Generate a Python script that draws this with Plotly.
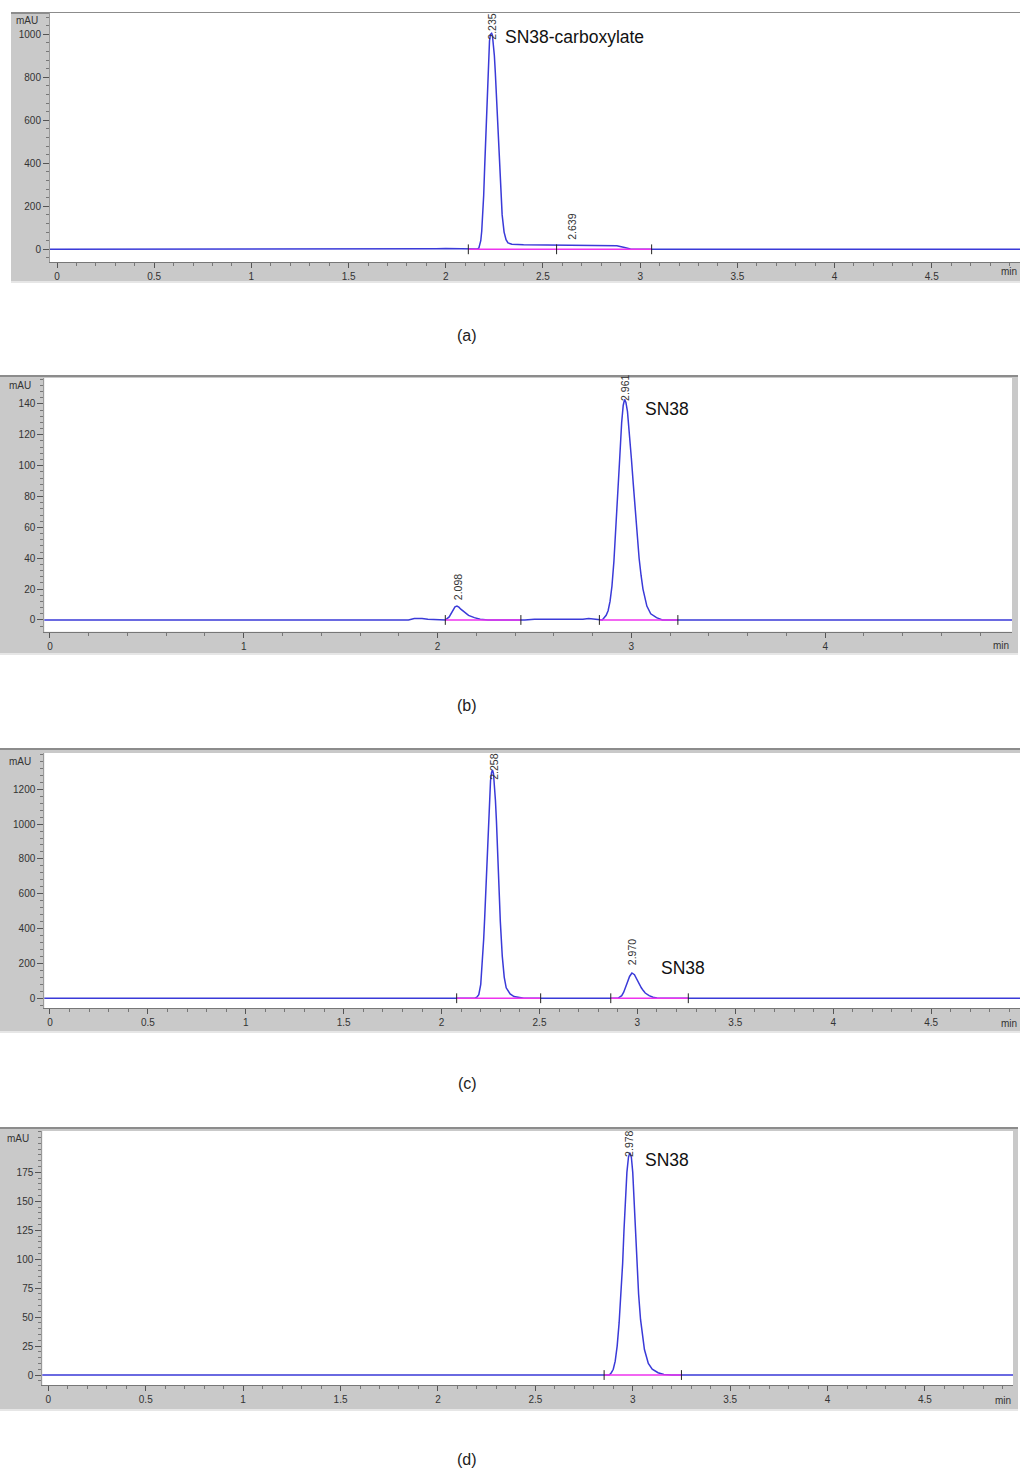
import plotly.graph_objects as go

W, H = 1020, 1471

# ---------------- data ----------------
# Panel (a)
a_time = [-0.05, 1.00, 1.90, 1.95, 2.00, 2.05, 2.10, 2.14, 2.16, 2.17, 2.175, 2.18, 2.185, 2.19, 2.195,
          2.20, 2.205, 2.21, 2.215, 2.22, 2.225, 2.23, 2.236, 2.24, 2.245, 2.25, 2.255, 2.26, 2.265,
          2.27, 2.275, 2.28, 2.285, 2.29, 2.30, 2.31, 2.32, 2.34, 2.40, 2.60, 2.80, 2.88,
          2.92, 2.95, 2.98, 4.00, 5.00]
a_signal = [0, 0, 0, 3, 4, 4, 4, 2, 1, 5, 18, 40, 85, 150, 250,
            380, 520, 660, 790, 900, 970, 1000, 1005, 995, 960, 900, 820, 720, 610,
            500, 395, 300, 220, 160, 80, 45, 30, 24, 21, 19, 18, 16,
            8, 2, 0, 0, 0]
a_base_start = [2.116]
a_base_end = [3.059]
a_events = [2.116, 2.570, 3.059]
a_peak_rt = ["2.235", "2.639"]
a_peak_pos = [2.236, 2.648]
a_peak_lab_y = [964, 34]
a_compound = ["SN38-carboxylate"]
a_compound_pos = [2.294]
a_compound_y = [987]
a_yticks = [0, 200, 400, 600, 800, 1000]
a_xticks = [0, 0.5, 1, 1.5, 2, 2.5, 3, 3.5, 4, 4.5]

# Panel (b)
b_time = [-0.05, 1.00, 1.85, 1.88, 1.92, 1.95, 2.00, 2.04, 2.06, 2.08, 2.09, 2.10, 2.11, 2.12, 2.14,
          2.16, 2.19, 2.22, 2.26, 2.45, 2.50, 2.75, 2.78, 2.82, 2.85, 2.87, 2.88, 2.89, 2.90, 2.91,
          2.92, 2.93, 2.94, 2.95, 2.958, 2.965, 2.972, 2.98, 2.99, 3.00, 3.01, 3.02, 3.03, 3.04,
          3.05, 3.06, 3.08, 3.10, 3.13, 3.16, 4.00, 5.00]
b_signal = [0, 0, 0, 1, 1, 0.5, 0, 0, 2, 7, 8.5, 9, 8.3, 7, 5,
            3, 1.5, 0.5, 0, 0, 0.5, 0.5, 1, 0.5, 0, 3, 6, 12, 22, 38,
            58, 80, 105, 128, 139, 143, 141, 135, 122, 105, 88, 70, 54, 40,
            29, 20, 9, 4, 1.5, 0, 0, 0]
b_base_start = [2.04, 2.835]
b_base_end = [2.43, 3.24]
b_events = [2.04, 2.43, 2.835, 3.24]
b_peak_rt = ["2.098", "2.961"]
b_peak_pos = [2.107, 2.967]
b_peak_lab_y = [11.7, 140.6]
b_compound = ["SN38"]
b_compound_pos = [3.06]
b_compound_y = [136.7]
b_yticks = [0, 20, 40, 60, 80, 100, 120, 140]
b_xticks = [0, 1, 2, 3, 4]

# Panel (c)
c_time = [-0.05, 1.00, 2.17, 2.18, 2.19, 2.20, 2.205, 2.21, 2.215, 2.22, 2.225, 2.23, 2.235, 2.24,
          2.245, 2.25, 2.255, 2.26, 2.265, 2.27, 2.275, 2.28, 2.285, 2.29, 2.295, 2.30, 2.31,
          2.32, 2.33, 2.35, 2.37, 2.40, 2.42, 2.90, 2.91, 2.92, 2.93, 2.94, 2.95, 2.96, 2.972,
          2.985, 3.00, 3.01, 3.02, 3.03, 3.04, 3.06, 3.08, 3.10, 3.12, 4.00, 5.00]
c_signal = [0, 0, 0, 6, 20, 80, 150, 230, 340, 460, 600, 750, 890, 1030,
            1150, 1250, 1295, 1310, 1290, 1230, 1135, 1020, 870, 720, 580, 440, 240,
            120, 60, 25, 10, 3, 0, 0, 6, 15, 35, 60, 95, 125, 145,
            135, 100, 80, 60, 44, 30, 15, 6, 2, 0, 0, 0]
c_base_start = [2.077, 2.864]
c_base_end = [2.506, 3.26]
c_events = [2.077, 2.506, 2.864, 3.26]
c_peak_rt = ["2.258", "2.970"]
c_peak_pos = [2.267, 2.974]
c_peak_lab_y = [1242, 180]
c_compound = ["SN38"]
c_compound_pos = [3.11]
c_compound_y = [174]
c_yticks = [0, 200, 400, 600, 800, 1000, 1200]
c_xticks = [0, 0.5, 1, 1.5, 2, 2.5, 3, 3.5, 4, 4.5]

# Panel (d)
d_time = [-0.05, 1.00, 2.88, 2.89, 2.90, 2.91, 2.92, 2.93, 2.94, 2.948, 2.955, 2.963, 2.97, 2.978,
          2.985, 2.993, 3.00, 3.01, 3.02, 3.03, 3.04, 3.05, 3.06, 3.08, 3.10, 3.13, 3.16, 3.20,
          4.00, 5.00]
d_signal = [0, 0, 0, 2, 5, 12, 25, 45, 70, 96, 125, 155, 175, 188,
            192, 188, 175, 140, 100, 70, 48, 32, 22, 10, 5, 2, 0.5, 0,
            0, 0]
d_base_start = [2.853]
d_base_end = [3.25]
d_events = [2.853, 3.25]
d_peak_rt = ["2.978"]
d_peak_pos = [2.983]
d_peak_lab_y = [187]
d_compound = ["SN38"]
d_compound_pos = [3.053]
d_compound_y = [185.7]
d_yticks = [0, 25, 50, 75, 100, 125, 150, 175]
d_xticks = [0, 0.5, 1, 1.5, 2, 2.5, 3, 3.5, 4, 4.5]

captions = ["(a)", "(b)", "(c)", "(d)"]

# ---------------- layout geometry (pixels) ----------------
panels = [
    dict(t=a_time, s=a_signal, bs=a_base_start, be=a_base_end, ev=a_events,
         prt=a_peak_rt, ppos=a_peak_pos, py=a_peak_lab_y,
         cmp=a_compound, cpos=a_compound_pos, cy=a_compound_y,
         yt=a_yticks, xt=a_xticks, ymin=40,
         white=(50, 13, 1020, 262), gray=(11, 12, 1020, 282),
         xr=[-0.036, 4.954], yr=[-59, 1099],
         mau=(40, 21), minl=(1019, 272), cap=(467, 335)),
    dict(t=b_time, s=b_signal, bs=b_base_start, be=b_base_end, ev=b_events,
         prt=b_peak_rt, ppos=b_peak_pos, py=b_peak_lab_y,
         cmp=b_compound, cpos=b_compound_pos, cy=b_compound_y,
         yt=b_yticks, xt=b_xticks, ymin=4,
         white=(44.3, 378, 1012, 631.7), gray=(0, 375, 1018, 654),
         xr=[-0.029, 4.964], yr=[-7.6, 156.8],
         mau=(33, 385), minl=(1011, 645), cap=(467, 706)),
    dict(t=c_time, s=c_signal, bs=c_base_start, be=c_base_end, ev=c_events,
         prt=c_peak_rt, ppos=c_peak_pos, py=c_peak_lab_y,
         cmp=c_compound, cpos=c_compound_pos, cy=c_compound_y,
         yt=c_yticks, xt=c_xticks, ymin=40,
         white=(44.3, 753, 1020, 1008), gray=(0, 748, 1020, 1032),
         xr=[-0.029, 4.954], yr=[-56, 1408],
         mau=(33, 761), minl=(1019, 1023), cap=(467, 1083)),
    dict(t=d_time, s=d_signal, bs=d_base_start, be=d_base_end, ev=d_events,
         prt=d_peak_rt, ppos=d_peak_pos, py=d_peak_lab_y,
         cmp=d_compound, cpos=d_compound_pos, cy=d_compound_y,
         yt=d_yticks, xt=d_xticks, ymin=5,
         white=(42.3, 1131, 1013, 1385), gray=(0, 1127, 1018, 1410),
         xr=[-0.031, 4.952], yr=[-8.6, 210.7],
         mau=(31, 1138), minl=(1013, 1400), cap=(467, 1459)),
]

FONT = "Liberation Sans, Arial, sans-serif"
BLUE = "#3a3ad8"
MAGENTA = "#ee33ee"
GRAY = "#c9c9c9"
TICK = "#555555"


def px(x):
    return x / W


def py(y):
    return 1 - y / H


fig = go.Figure()
shapes = []
annotations = []
layout = {}

for i, p in enumerate(panels, start=1):
    xa = "x" if i == 1 else f"x{i}"
    ya = "y" if i == 1 else f"y{i}"
    wx0, wy0, wx1, wy1 = p["white"]
    gx0, gy0, gx1, gy1 = p["gray"]

    # frame
    shapes.append(dict(type="rect", xref="paper", yref="paper", layer="below",
                       x0=px(gx0), x1=px(gx1), y0=py(gy1), y1=py(gy0),
                       fillcolor=GRAY, line=dict(width=0)))
    shapes.append(dict(type="line", xref="paper", yref="paper", layer="below",
                       x0=px(gx0), x1=px(gx1), y0=py(gy0 + 1), y1=py(gy0 + 1),
                       line=dict(color="#8c8c8c", width=2)))
    shapes.append(dict(type="line", xref="paper", yref="paper", layer="below",
                       x0=px(gx0), x1=px(gx1), y0=py(gy1), y1=py(gy1),
                       line=dict(color="#e6e6e6", width=2)))
    shapes.append(dict(type="rect", xref="paper", yref="paper", layer="below",
                       x0=px(wx0), x1=px(wx1), y0=py(wy1), y1=py(wy0),
                       fillcolor="white", line=dict(width=0)))

    # chromatogram
    fig.add_trace(go.Scatter(x=p["t"], y=p["s"], mode="lines",
                             line=dict(color=BLUE, width=1.5),
                             xaxis=xa, yaxis=ya, showlegend=False))
    # magenta integration baselines (drawn on top of the signal, as in the original)
    for s0, s1 in zip(p["bs"], p["be"]):
        fig.add_trace(go.Scatter(x=[s0, s1], y=[0, 0], mode="lines",
                                 line=dict(color=MAGENTA, width=1.5),
                                 xaxis=xa, yaxis=ya, showlegend=False, hoverinfo="skip"))
    # integration event markers
    fig.add_trace(go.Scatter(x=p["ev"], y=[0] * len(p["ev"]), mode="markers",
                             marker=dict(symbol="line-ns-open", size=7, color="#222222",
                                         line=dict(color="#222222", width=1)),
                             xaxis=xa, yaxis=ya, showlegend=False, hoverinfo="skip"))

    axis_font = dict(family=FONT, size=10, color="#333333")
    layout["xaxis" if i == 1 else f"xaxis{i}"] = dict(
        domain=[px(wx0), px(wx1)], anchor=ya, range=p["xr"],
        tickmode="array", tickvals=p["xt"], ticktext=[f"{v:g}" for v in p["xt"]],
        ticks="outside", ticklen=5, tickcolor=TICK, tickwidth=1,
        minor=dict(tickmode="linear", tick0=0, dtick=0.1 if i != 2 else 0.2,
                   ticks="outside", ticklen=3, tickcolor="#777777"),
        showline=True, linecolor="#777777", linewidth=1,
        showgrid=False, zeroline=False, tickfont=axis_font, fixedrange=True)
    layout["yaxis" if i == 1 else f"yaxis{i}"] = dict(
        domain=[py(wy1), py(wy0)], anchor=xa, range=p["yr"],
        tickmode="array", tickvals=p["yt"], ticktext=[str(v) for v in p["yt"]],
        ticks="outside", ticklen=6, tickcolor=TICK, tickwidth=1,
        minor=dict(tickmode="linear", tick0=0, dtick=p["ymin"],
                   ticks="outside", ticklen=3, tickcolor="#777777"),
        showline=True, linecolor="#9a9a9a", linewidth=1,
        showgrid=False, zeroline=False, tickfont=axis_font, fixedrange=True)

    # peak retention-time labels
    for txt, xpos, ypos in zip(p["prt"], p["ppos"], p["py"]):
        annotations.append(dict(x=xpos, y=ypos, xref=xa, yref=ya, text=txt,
                                textangle=-90, showarrow=False, xanchor="center",
                                yanchor="bottom",
                                font=dict(family=FONT, size=10.5, color="#333333")))
    # compound labels
    for txt, xpos, ypos in zip(p["cmp"], p["cpos"], p["cy"]):
        annotations.append(dict(x=xpos, y=ypos, xref=xa, yref=ya, text=txt,
                                showarrow=False, xanchor="left", yanchor="middle",
                                font=dict(family=FONT, size=17.5, color="#111111")))
    # mAU, min, caption
    annotations.append(dict(x=px(p["mau"][0]), y=py(p["mau"][1]), xref="paper", yref="paper",
                            text="mAU", showarrow=False, xanchor="right", yanchor="middle",
                            font=dict(family=FONT, size=10, color="#333333")))
    annotations.append(dict(x=px(p["minl"][0]), y=py(p["minl"][1]), xref="paper", yref="paper",
                            text="min", showarrow=False, xanchor="right", yanchor="middle",
                            font=dict(family=FONT, size=10, color="#333333")))
    annotations.append(dict(x=px(p["cap"][0]), y=py(p["cap"][1]), xref="paper", yref="paper",
                            text=captions[i - 1], showarrow=False, xanchor="center",
                            yanchor="middle",
                            font=dict(family=FONT, size=16, color="#222222")))

fig.update_layout(
    width=W, height=H, autosize=False,
    margin=dict(l=0, r=0, t=0, b=0),
    paper_bgcolor="white", plot_bgcolor="rgba(0,0,0,0)",
    shapes=shapes, annotations=annotations, showlegend=False,
    **layout)

fig.write_html("out.html", config={"displayModeBar": False, "staticPlot": True},
               post_script="document.body.style.margin='0';document.body.style.overflow='hidden';")
